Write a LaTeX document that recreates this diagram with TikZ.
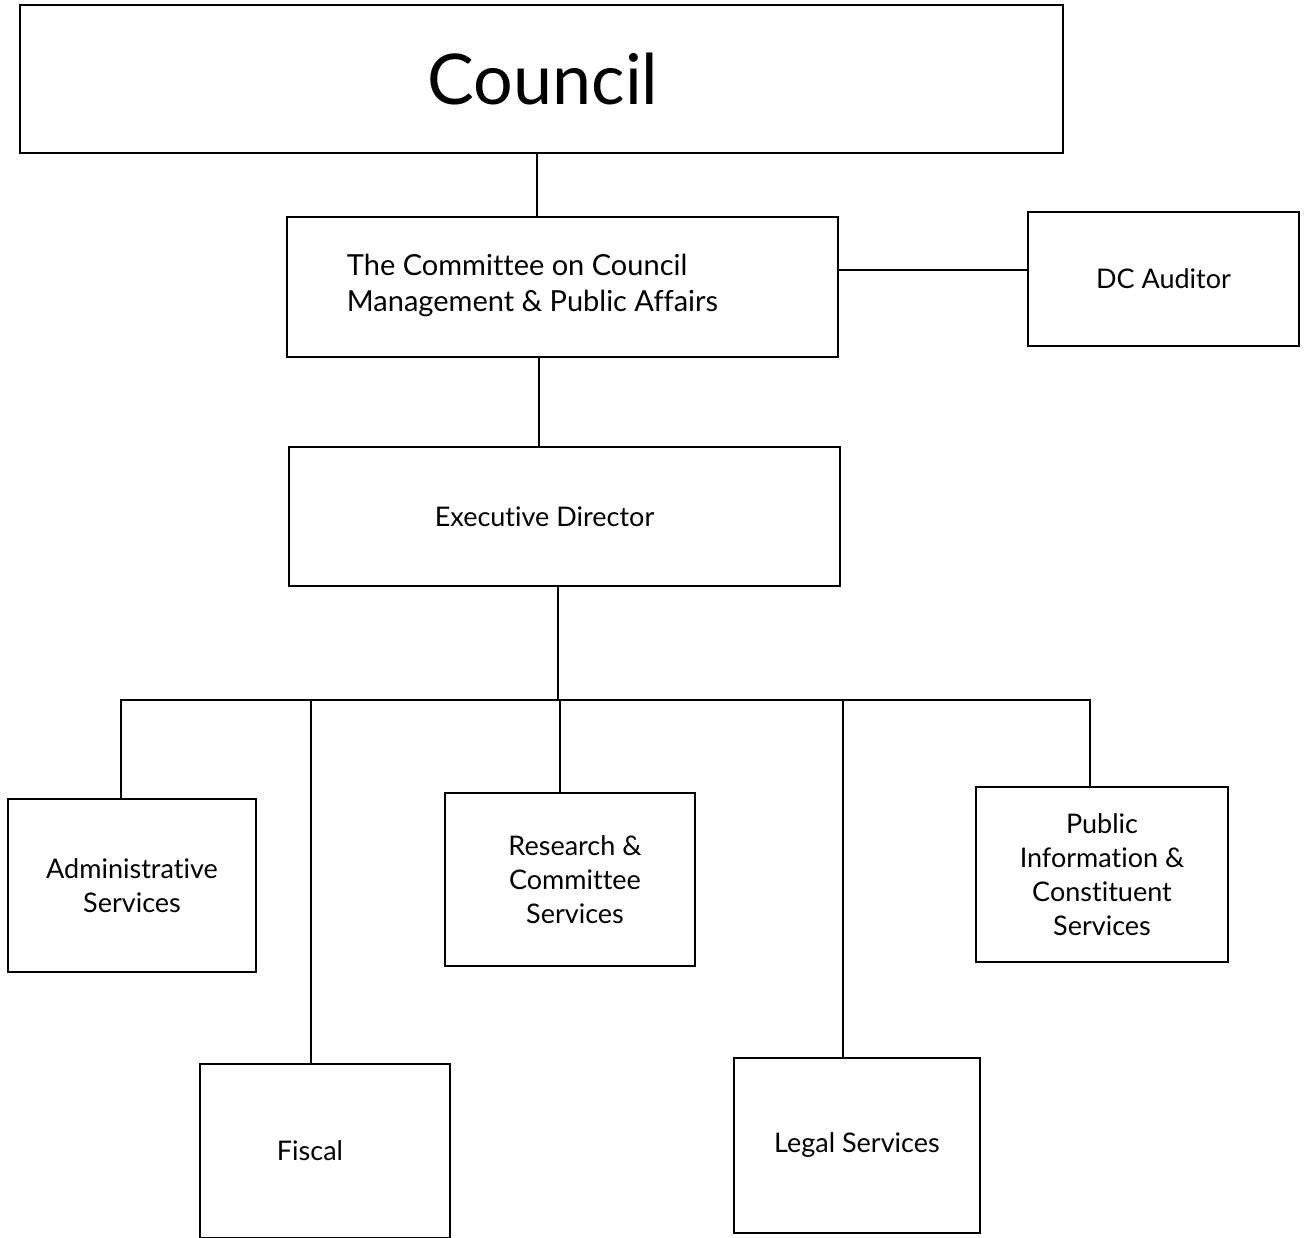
\documentclass[tikz,border=0pt]{standalone}
\usepackage{fontspec}
\setmainfont{Lato}[Ligatures=NoCommon]
\begin{document}
\begin{tikzpicture}[x=1pt,y=-1pt,
  box/.style={draw,line width=2.8pt,inner sep=0pt},
  lbl/.style={font=\fontsize{27}{34}\selectfont,align=center},
  conn/.style={line width=2.8pt}]
\useasboundingbox (0,0) rectangle (1305,1238);
% boxes
\node[box,minimum width=1043pt,minimum height=148pt,
  label={[font=\fontsize{70}{80}\selectfont,xshift=1.5pt]center:Council}] (council) at (541.5,79) {};
\node[box,minimum width=551pt,minimum height=140pt,
  label={[align=left,font=\fontsize{29}{36}\selectfont,xshift=-30pt,yshift=2pt]center:The Committee on Council\\Management \& Public Affairs}] (cmte) at (562.5,287) {};
\node[box,lbl,minimum width=271pt,minimum height=134pt] (audit) at (1163.5,279) {DC Auditor};
\node[box,minimum width=551pt,minimum height=139pt,
  label={[lbl,xshift=-20pt]center:Executive Director}] (exec) at (564.5,516.5) {};
\node[box,lbl,minimum width=248pt,minimum height=173pt] (admin) at (132,885.5) {Administrative\\Services};
\node[box,minimum width=250pt,minimum height=173pt,
  label={[lbl,xshift=5pt]center:Research \&\\Committee\\Services}] (research) at (570,879.5) {};
\node[box,lbl,minimum width=252pt,minimum height=175pt] (public) at (1102,874.5) {Public\\Information \&\\Constituent\\Services};
\node[box,minimum width=250pt,minimum height=174pt,
  label={[lbl,xshift=-15pt]center:Fiscal}] (fiscal) at (325,1151) {};
\node[box,lbl,minimum width=246pt,minimum height=175pt] (legal) at (857,1145.5) {Legal Services};
% connectors
\coordinate (busL) at (121,700);
\coordinate (busR) at (1090,700);
\draw[conn] (council.south -| 537,0) -- (cmte.north -| 537,0);
\draw[conn] (cmte.east |- 0,270) -- (audit.west |- 0,270);
\draw[conn] (cmte.south -| 539,0) -- (exec.north -| 539,0);
\draw[conn] (exec.south -| 558,0) -- (558,700);
\draw[conn] (admin.north -| busL) -- (busL) -- (busR) -- (public.north -| busR);
\draw[conn] (311,700) -- (fiscal.north -| 311,0);
\draw[conn] (560,700) -- (research.north -| 560,0);
\draw[conn] (843,700) -- (legal.north -| 843,0);
\end{tikzpicture}
\end{document}
